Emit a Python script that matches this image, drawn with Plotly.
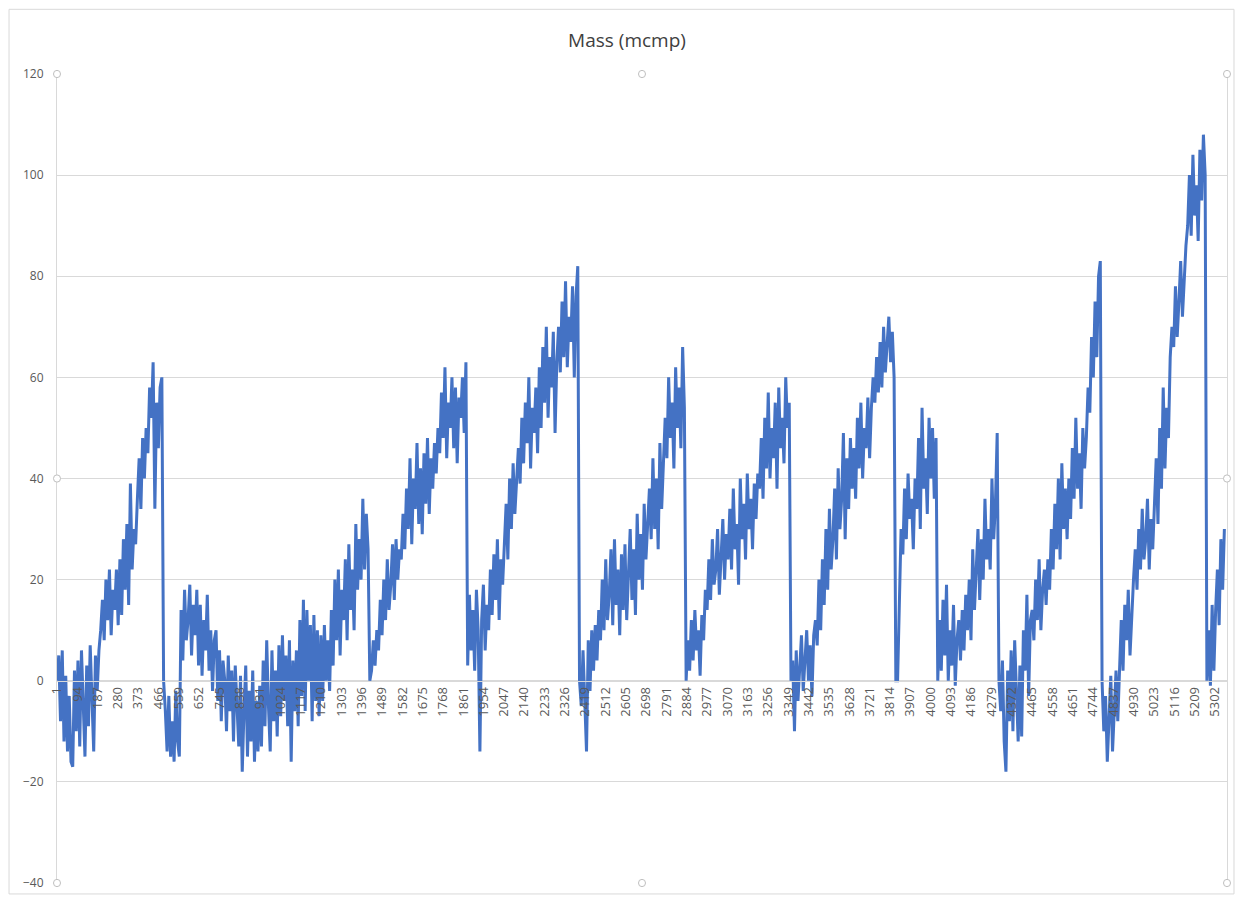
import plotly.graph_objects as go

# ---- data (one value every 8 points) ----
sample_step = 8
mass = [
    # ramp 1
    0, 5, -8, 6, -12, 1, -14, -3, -16, -17, 2, -10,
    4, -13, 6, -5, -15, 3, -9, 7, -6, -14, 5, -2, 6,
    10, 16, 8, 20, 12, 22, 9, 18, 14, 22, 11, 24,
    13, 28, 18, 31, 15, 39, 22, 30, 27,
    36, 44, 34, 48, 40, 50,
    45, 58, 52, 63, 34,
    55, 46, 58, 60,
    # trough / ramp 2
    0, -6, -14, -3, -15, -8, -16, -2, -12, -15,
    14, 4, 18, 8, 12, 19, 5, 15, 9, 18, 3,
    15, 1, 12, 6, 17, 2, 10, -2, 8,
    10, -4, 6, -8, 4, 0, -10, 5, -6, 2, -12, 3, -7, -13,
    1, -18, -6, 3, -15, -2, -12, 2, -16, -4, -14, -1,
    -13, 4, -9, 8, -5, -14, 6, -8, 2, -11, 7,
    -7, 9, -4, 5, -9, 8, -16, 4, -6,
    6, -9, 12, -3, 16, -6, 14, 0, 11, -8, 13, -4, 10, -7,
    9, -4, 11, 0, 8, -2,
    14, 3, 20, 8, 22, 5, 18, 12,
    24, 8, 27, 14, 22, 10, 31, 18, 28, 20, 36, 22, 33, 26,
    # ramp 3
    0, 2, 8, 3,
    10, 6, 16, 9, 20, 12, 24, 14, 19, 27, 16, 28, 20, 26,
    24, 33, 26, 38, 30, 44, 27, 40, 34, 47, 31,
    42, 29, 45, 35, 48, 33, 44, 38, 47, 41, 50,
    45, 57, 48, 62, 44, 55, 50, 60, 46, 58, 43, 56, 52, 60, 49, 63,
    # ramp 4
    3, 17, 6, 14, 2, 18, 10, -14, 12, 19, 6, 15,
    10, 22, 13, 25, 16, 28, 12, 24, 19,
    26, 35, 24, 40, 30, 43, 33, 41,
    46, 39, 52, 43, 55, 47, 60, 42, 54, 49, 58, 45,
    62, 50, 66, 55, 70, 52, 64, 58, 69, 49, 63,
    70, 61, 75, 64, 79, 62, 72, 67, 78, 60, 76, 82,
    # ramp 5
    0, -5, 6, -3, -14, 8, -2, 10, 2, 11, 4,
    14, 8, 20, 10, 24, 12, 17, 26, 11, 28, 15,
    22, 9, 25, 14, 27, 12, 20,
    30, 16, 26, 13, 33, 20, 29, 18, 35, 24, 31,
    38, 28, 44, 30, 40, 26, 47, 34, 42,
    52, 44, 60, 48, 55, 42, 62, 50, 58, 46, 66, 54,
    # ramp 6
    0, 8, 2, 12, 4, 14, 6, 10, 1, 13, 8,
    18, 14, 24, 16, 28, 19, 22, 30, 17, 26, 32, 20, 29, 24,
    34, 22, 38, 26, 31, 19, 40, 28, 35, 24, 41, 30, 36, 26, 39, 32, 41,
    38, 48, 36, 52, 42, 57, 40, 50, 44, 55, 38, 58, 46, 52, 43, 60, 50, 55,
    # ramp 7
    0, 4, -10, 6, -4, 2, 9, -2, 5, 10, 0, 7, -3, 9,
    12, 7, 20, 10, 24, 15, 30, 18, 34, 22,
    28, 38, 24, 42, 30, 36, 49, 28, 44, 34, 48, 38,
    46, 36, 52, 42, 55, 40, 50, 46, 56, 44, 54,
    60, 55, 64, 57, 67, 58, 70, 61, 66, 72, 63, 69, 60,
    # ramp 8
    0, 0, 18,
    30, 25, 38, 28, 41, 32, 36, 26, 40,
    34, 48, 30, 54, 38, 44, 33, 52, 40, 50, 36, 48,
    # ramp 9
    0, 12, 2, 16, 5, 19, 0, 10, 3, 15, -1, 8, 12, 4, 14, 6, 17,
    10, 20, 8, 26, 14, 22, 30, 16, 28, 20, 36, 24,
    30, 22, 40, 28, 35, 49,
    # ramp 10
    0, -6, 4, -12, -18, 2, -8, 6, -10, 8, -4, -12, 3,
    -11, 10, 2, 17, -3, 12,
    14, 8, 20, 12, 24, 10, 18, 22, 15,
    24, 18, 30, 22, 35, 26, 40, 24, 43, 30, 38, 28,
    40, 32, 46, 36, 52, 38, 45, 34, 50, 42, 48,
    58, 53, 68, 60, 75, 64, 80, 83,
    # ramp 11
    0, -10, -3, -16, -6, 1, -14, -4, 2, -8,
    4, 12, 2, 15, 8, 18, 5, 14,
    20, 26, 18, 30, 22, 34, 24, 28, 36, 22, 32, 26,
    34, 44, 31, 50, 38, 58, 42, 54, 48,
    64, 70, 66, 78, 68, 75, 83, 72, 80, 86,
    90, 100, 88, 104, 92, 98, 87, 105, 95, 108, 100,
    # final restart
    0, 10, -1, 15, 2,
    14, 22, 11, 28, 18, 30,
]
sample_index = [1 + sample_step * j for j in range(len(mass))]

tick_labels = [1, 94, 187, 280, 373, 466, 559, 652, 745, 838, 931, 1024, 1117,
               1210, 1303, 1396, 1489, 1582, 1675, 1768, 1861, 1954, 2047, 2140,
               2233, 2326, 2419, 2512, 2605, 2698, 2791, 2884, 2977, 3070, 3163,
               3256, 3349, 3442, 3535, 3628, 3721, 3814, 3907, 4000, 4093, 4186,
               4279, 4372, 4465, 4558, 4651, 4744, 4837, 4930, 5023, 5116, 5209,
               5302]
y_ticks = [-40, -20, 0, 20, 40, 60, 80, 100, 120]
n_points = 5357

FONT = "Liberation Sans Narrow, Arial Narrow, Open Sans, sans-serif"
GRID = "#d9d9d9"
TXT = "#595959"

# page has an 8px body margin, so the figure is sized/margined to compensate
L, R, T, B = 49, 8, 66, 12
W, H = 1228, 891
PW, PH = W - L - R, H - T - B

fig = go.Figure()
fig.add_trace(go.Scatter(
    x=sample_index, y=mass, mode="lines",
    line=dict(color="#4472C4", width=3),
    hoverinfo="skip", showlegend=False,
))

fig.update_layout(
    width=W, height=H,
    paper_bgcolor="white", plot_bgcolor="white",
    margin=dict(l=L, r=R, t=T, b=B),
    title=dict(text="Mass (mcmp)", x=(627 - 8) / W, xanchor="center",
               y=1 - 32 / H, yanchor="middle", yref="container",
               font=dict(family=FONT, size=19, color="#404040")),
    xaxis=dict(
        range=[1, n_points], showgrid=False, zeroline=False,
        anchor="free", position=0.25,
        showline=True, linecolor=GRID, linewidth=1,
        tickmode="array", tickvals=tick_labels,
        ticktext=[str(t) for t in tick_labels],
        tickangle=-90, ticks="",
        tickfont=dict(family=FONT, size=13, color=TXT),
    ),
    yaxis=dict(
        range=[-40, 120], tickvals=y_ticks, showgrid=True,
        gridcolor=GRID, gridwidth=1, zeroline=False,
        showline=True, linecolor=GRID, linewidth=1, mirror=True,
        ticks="", ticklabelstandoff=10,
        tickfont=dict(family=FONT, size=12, color=TXT),
    ),
)

# plot-area selection handles (decoration)
for hx in (0, 0.5, 1):
    for hy in (0, 0.5, 1):
        if hx == 0.5 and hy == 0.5:
            continue
        fig.add_shape(type="circle", xref="x domain", yref="y domain",
                      x0=hx - 0.003, x1=hx + 0.003, y0=hy - 0.0045, y1=hy + 0.0045,
                      line=dict(color="#bfbfbf", width=1), fillcolor="white",
                      layer="above")

# outer chart-area border
fig.add_shape(type="rect", xref="paper", yref="paper",
              x0=(1 - L) / PW, x1=(W - 1 - L) / PW,
              y0=(T + PH - (H - 1)) / PH, y1=(T + PH - 1) / PH,
              line=dict(color="#d9d9d9", width=1), layer="below")

fig.write_html("out.html")
